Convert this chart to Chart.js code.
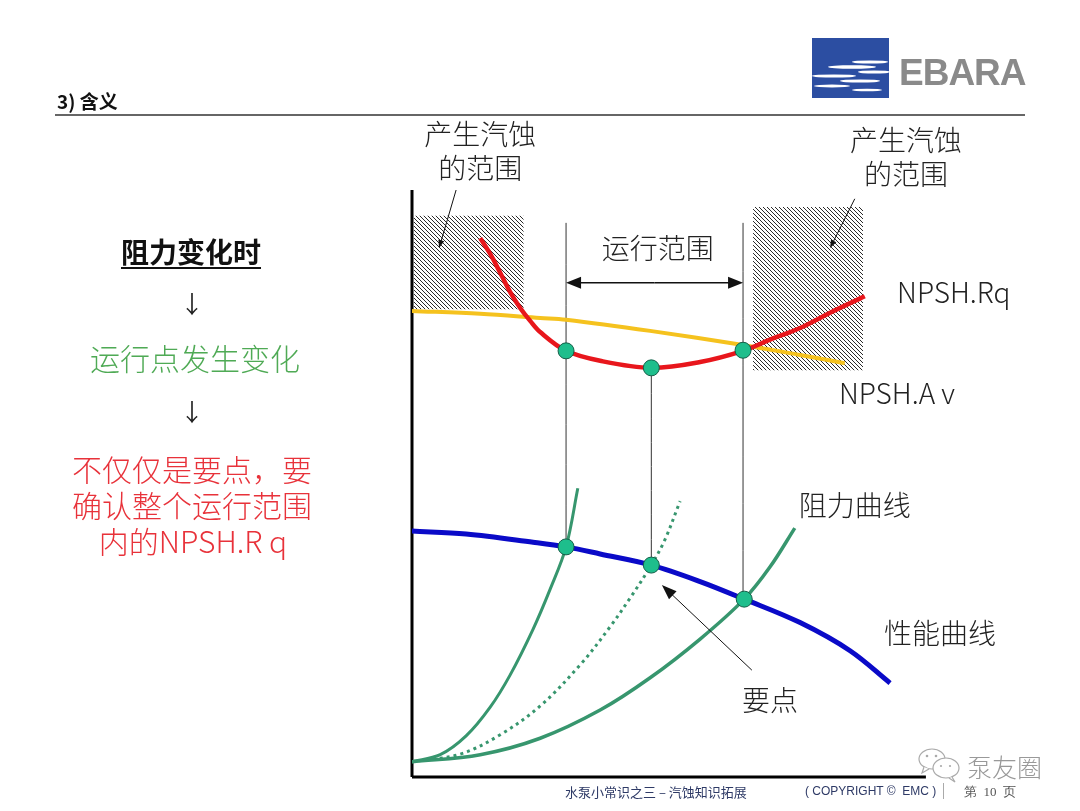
<!DOCTYPE html>
<html>
<head>
<meta charset="utf-8">
<script src="https://cdn.jsdelivr.net/npm/chart.js@4.4.1/dist/chart.umd.min.js"></script>
<style>
html, body { margin: 0; padding: 0; background: #fff; }
#page { position: relative; width: 1080px; height: 811px; overflow: hidden; font-family: "Noto Sans CJK SC", "Noto Sans", sans-serif; }
#chart { position: absolute; left: 0; top: 0; }
.t { position: absolute; white-space: nowrap; transform: translate(-50%, -50%); line-height: 1; }
.l { position: absolute; white-space: nowrap; transform: translateY(-50%); line-height: 1; }
</style>
</head>
<body>
<div id="page">
    <canvas id="chart" width="1080" height="811"></canvas>

    <!-- header -->
    <div class="l" style="left:57px;top:100px;font-size:19px;font-weight:bold;color:#111;">3) 含义</div>
    <div style="position:absolute;left:55px;top:114px;width:970px;height:2px;background:#666;"></div>

    <!-- logo -->
    <svg style="position:absolute;left:812px;top:38px;" width="78" height="61">
        <rect x="0" y="0" width="77" height="60" fill="#2C4EA2"/>
        <g fill="#fff">
            <ellipse cx="58" cy="24" rx="18" ry="1.6"/>
            <ellipse cx="40" cy="29" rx="24" ry="1.8"/>
            <ellipse cx="62" cy="34" rx="16" ry="1.6"/>
            <ellipse cx="22" cy="38" rx="22" ry="1.6"/>
            <ellipse cx="48" cy="43" rx="20" ry="1.6"/>
            <ellipse cx="20" cy="48" rx="18" ry="1.4"/>
            <ellipse cx="55" cy="52" rx="15" ry="1.3"/>
        </g>
    </svg>
    <div class="l" style="left:899px;top:72px;font-family:'Liberation Sans',Arial,sans-serif;font-size:37px;font-weight:bold;color:#8A8A8A;letter-spacing:-1px;">EBARA</div>

    <!-- left notes -->
    <div class="t" style="left:191px;top:251px;font-size:28px;font-weight:bold;color:#111;text-decoration:underline;text-underline-offset:4px;">阻力变化时</div>
    <div class="t" style="left:192px;top:303px;font-size:24px;color:#222;">↓</div>
    <div class="t" style="left:195px;top:357px;font-size:30px;color:#4FAA55;font-weight:300;">运行点发生变化</div>
    <div class="t" style="left:192px;top:411px;font-size:24px;color:#222;">↓</div>
    <div class="t" style="left:192px;top:468px;font-size:30px;color:#E8323A;font-weight:300;">不仅仅是要点，要</div>
    <div class="t" style="left:192px;top:504px;font-size:30px;color:#E8323A;font-weight:300;">确认整个运行范围</div>
    <div class="t" style="left:193px;top:540px;font-size:30px;color:#E8323A;font-weight:300;">内的NPSH.R q</div>

    <!-- footer -->
    <div class="l" style="left:565px;top:791px;font-size:13px;color:#2E3A66;">水泵小常识之三 – 汽蚀知识拓展</div>
    <div class="l" style="left:805px;top:791px;font-family:'Liberation Sans',Arial,sans-serif;font-size:12px;color:#2E3A66;">( COPYRIGHT ©&nbsp; EMC )</div>
    <div style="position:absolute;left:943px;top:783px;width:1px;height:16px;background:#aaa;"></div>
    <div class="l" style="left:964px;top:791px;font-family:'Liberation Serif',serif;font-size:13px;color:#555;">第&nbsp; 10&nbsp; 页</div>

    <!-- watermark -->
    <svg style="position:absolute;left:916px;top:746px;" width="48" height="40">
        <g fill="#fff" stroke="#aaa" stroke-width="1.2">
            <ellipse cx="16" cy="13" rx="13" ry="10"/>
            <path d="M8 21 L6 27 L13 23"/>
            <ellipse cx="30" cy="22" rx="13" ry="10"/>
            <path d="M36 31 L39 36 L33 32"/>
        </g>
        <g fill="#aaa"><circle cx="11" cy="10" r="1.3"/><circle cx="20" cy="10" r="1.3"/><circle cx="25" cy="20" r="1.1"/><circle cx="34" cy="20" r="1.1"/></g>
    </svg>
    <div class="l" style="left:967px;top:766px;font-size:25px;color:#999;font-weight:300;">泵友圈</div>
</div>

<script>
// 示意图坐标：横轴 0-100 为流量，纵轴 0-100 为扬程 / NPSH（无刻度）
var npshAvX = [0, 11.6, 21.8, 26.2, 40.5, 56.3, 66.0, 73.6];
var npshAvY = [79.4, 78.9, 78.2, 77.9, 76.0, 73.6, 71.9, 70.5];

var npshRqX = [11.6, 13.3, 15.0, 16.7, 18.4, 20.1, 21.8, 26.2, 32.0, 40.7, 49.0, 56.3, 60.9, 66.0, 71.1, 77.0];
var npshRqY = [91.8, 89.1, 85.9, 82.6, 79.9, 77.7, 75.8, 72.6, 70.9, 69.7, 70.7, 72.6, 74.5, 76.5, 79.1, 81.9];

var perfX = [0, 9.2, 20.6, 26.2, 32.0, 40.7, 49.0, 56.5, 66.0, 74.5, 81.3];
var perfY = [41.9, 41.4, 40.0, 39.2, 38.0, 36.1, 33.3, 30.3, 26.3, 21.5, 16.0];

// 阻力曲线（陡 / 要点 / 缓）
var sysAX = [0, 4.8, 9.2, 13.3, 16.7, 20.6, 23.5, 26.2, 28.2];
var sysAY = [2.6, 3.8, 7.0, 11.9, 17.4, 25.2, 32.0, 39.2, 49.2];
var sysBX = [0, 8.2, 15.0, 21.8, 28.6, 33.7, 37.1, 40.7, 43.0, 45.6];
var sysBY = [2.6, 3.9, 7.2, 12.1, 19.1, 25.6, 30.5, 36.1, 40.4, 47.0];
var sysCX = [0, 11.6, 21.8, 32.0, 40.5, 49.0, 56.5, 60.9, 65.1];
var sysCY = [2.6, 3.8, 6.6, 11.4, 16.9, 23.5, 30.3, 35.8, 42.4];

// 运行点
var dutyX = [26.2, 40.7, 56.3, 26.2, 40.7, 56.5];
var dutyY = [72.6, 69.7, 72.7, 39.2, 36.1, 30.3];

var guideX = [26.2, 40.7, 56.3];
var guideTop = [94.4, 69.7, 94.4];
var guideBottom = [39.2, 36.1, 30.3];

// 汽蚀区
var zoneX0 = [0.3, 58.0];
var zoneX1 = [19.0, 76.7];
var zoneTop = [95.6, 97.1];
var zoneBottom = [79.7, 69.3];

var axisEndX = 87.4;
var rangeX = [26.2, 56.3];
var rangeY = 84.2;

// 标注
var labelText = ['产生汽蚀', '的范围', '产生汽蚀', '的范围', '运行范围', 'NPSH.Rq', 'NPSH.A v', '阻力曲线', '性能曲线', '要点'];
var labelX = [11.6, 11.6, 84.0, 84.0, 41.8, 82.5, 72.6, 75.3, 89.8, 60.9];
var labelY = [109.4, 103.7, 108.5, 102.6, 90.1, 82.6, 65.4, 46.3, 24.5, 13.1];
var labelAlign = ['center', 'center', 'center', 'center', 'center', 'left', 'left', 'center', 'center', 'center'];

var arrowFrom = [[7.5, 100.0], [75.3, 98.5], [57.8, 18.2]];
var arrowTo = [[4.6, 90.1], [71.1, 90.1], [42.5, 32.7]];
var arrowHead = [[8, 3], [8, 3], [15, 5.5]];

function pts(xs, ys) {
    return xs.map(function (x, i) { return { x: x, y: ys[i] }; });
}

function hatchPattern() {
    var c = document.createElement('canvas');
    c.width = 4; c.height = 4;
    var g = c.getContext('2d');
    g.fillStyle = '#fff';
    g.fillRect(0, 0, 4, 4);
    g.strokeStyle = '#2a2a2a';
    g.lineWidth = 1;
    g.beginPath();
    g.moveTo(-1, -1); g.lineTo(5, 5);
    g.moveTo(-1, 3); g.lineTo(1, 5);
    g.moveTo(3, -1); g.lineTo(5, 1);
    g.stroke();
    return g.createPattern(c, 'repeat');
}

function curve(xs, ys, color, width, order, extra) {
    var ds = {
        data: pts(xs, ys),
        showLine: true,
        borderColor: color,
        borderWidth: width,
        pointRadius: 0,
        tension: 0.35,
        order: order
    };
    for (var k in extra) ds[k] = extra[k];
    return ds;
}

var datasets = [];

datasets.push({
    data: pts(dutyX, dutyY),
    pointRadius: 8,
    pointBackgroundColor: '#1EBE8C',
    pointBorderColor: '#155E48',
    pointBorderWidth: 1,
    showLine: false,
    order: 0
});
datasets.push(curve(npshRqX, npshRqY, '#E8161C', 4.5, 1));
datasets.push(curve(perfX, perfY, '#0A0AC8', 5, 1));
datasets.push(curve(npshAvX, npshAvY, '#F5C21E', 4, 2));
datasets.push(curve(sysAX, sysAY, '#37966E', 3, 3));
datasets.push(curve(sysBX, sysBY, '#37966E', 3, 3, { borderDash: [3, 4] }));
datasets.push(curve(sysCX, sysCY, '#37966E', 3.5, 3));

for (var i = 0; i < guideX.length; i++) {
    datasets.push(curve([guideX[i], guideX[i]], [guideTop[i], guideBottom[i]], '#333', 1, 5));
}
datasets.push(curve([0, 0], [0, 100], '#000', 3, 4, { clip: false }));
datasets.push(curve([0, axisEndX], [0, 0], '#000', 3, 4, { clip: false }));

var hatch = hatchPattern();
for (var j = 0; j < zoneX0.length; j++) {
    datasets.push({
        data: pts([zoneX0[j], zoneX1[j]], [zoneTop[j], zoneTop[j]]),
        showLine: true,
        borderWidth: 0,
        borderColor: 'rgba(0,0,0,0)',
        pointRadius: 0,
        backgroundColor: hatch,
        fill: { value: zoneBottom[j] },
        order: 10
    });
}

function drawArrow(ctx, x1, y1, x2, y2, len, half) {
    var a = Math.atan2(y2 - y1, x2 - x1);
    var c = Math.cos(a), s = Math.sin(a);
    ctx.beginPath();
    ctx.moveTo(x1, y1);
    ctx.lineTo(x2 - c * len * 0.7, y2 - s * len * 0.7);
    ctx.stroke();
    ctx.beginPath();
    ctx.moveTo(x2, y2);
    ctx.lineTo(x2 - len * c + half * s, y2 - len * s - half * c);
    ctx.lineTo(x2 - len * c - half * s, y2 - len * s + half * c);
    ctx.closePath();
    ctx.fill();
}

var overlayPlugin = {
    id: 'overlay',
    afterDatasetsDraw: function (chart) {
        var ctx = chart.ctx;
        var xs = chart.scales.x, ys = chart.scales.y;
        ctx.save();
        ctx.strokeStyle = '#111';
        ctx.fillStyle = '#111';
        ctx.lineWidth = 1;
        for (var i = 0; i < arrowFrom.length; i++) {
            drawArrow(ctx,
                xs.getPixelForValue(arrowFrom[i][0]), ys.getPixelForValue(arrowFrom[i][1]),
                xs.getPixelForValue(arrowTo[i][0]), ys.getPixelForValue(arrowTo[i][1]),
                arrowHead[i][0], arrowHead[i][1]);
        }
        // 运行范围 双向箭头
        var ra = xs.getPixelForValue(rangeX[0]), rb = xs.getPixelForValue(rangeX[1]);
        var ry = ys.getPixelForValue(rangeY);
        ctx.lineWidth = 1.5;
        var mid = (ra + rb) / 2;
        drawArrow(ctx, mid, ry, rb, ry, 15, 6);
        drawArrow(ctx, mid, ry, ra, ry, 15, 6);

        ctx.fillStyle = '#222';
        ctx.font = '300 28px "Noto Sans CJK SC", "Noto Sans", sans-serif';
        ctx.textBaseline = 'middle';
        for (var k = 0; k < labelText.length; k++) {
            ctx.textAlign = labelAlign[k];
            ctx.fillText(labelText[k], xs.getPixelForValue(labelX[k]), ys.getPixelForValue(labelY[k]));
        }
        ctx.restore();
    }
};

new Chart(document.getElementById('chart'), {
    type: 'scatter',
    data: { datasets: datasets },
    options: {
        responsive: false,
        animation: false,
        devicePixelRatio: 1,
        layout: { padding: { left: 412, right: 80, top: 190, bottom: 34 } },
        scales: {
            x: { type: 'linear', min: 0, max: 100, display: false },
            y: { type: 'linear', min: 0, max: 100, display: false }
        },
        plugins: {
            legend: { display: false },
            tooltip: { enabled: false }
        }
    },
    plugins: [overlayPlugin]
});
</script>
</body>
</html>
